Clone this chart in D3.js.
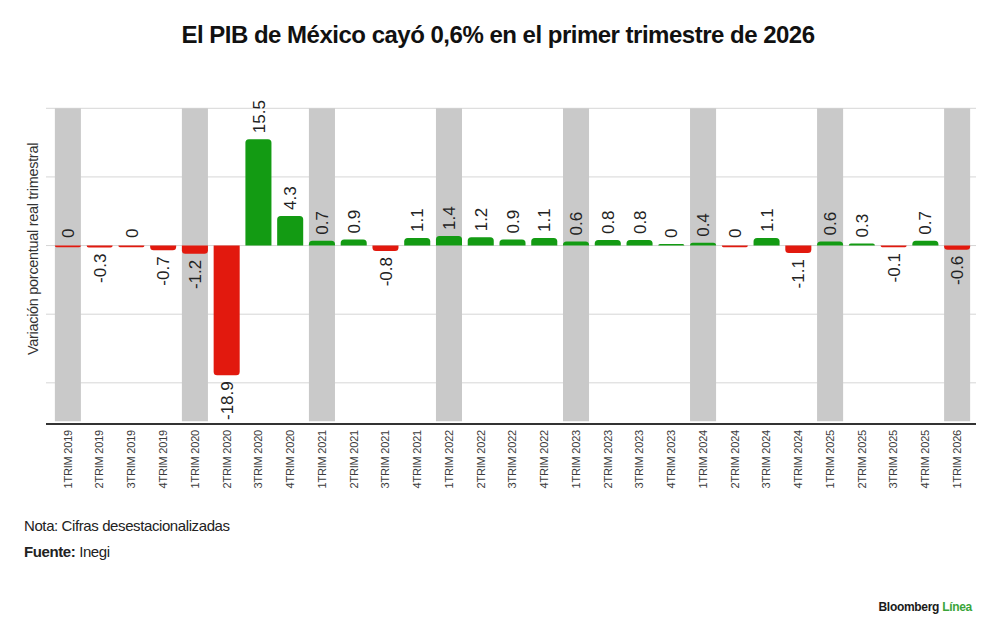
<!DOCTYPE html>
<html>
<head>
<meta charset="utf-8">
<script src="https://cdn.jsdelivr.net/npm/d3@7"></script>
<style>
  body { margin: 0; background: #fff; }
  svg { display: block; }
</style>
</head>
<body>
<div id="chart"></div>
<script>
  "use strict";
  // trimestres 2019-2026, variación trimestral desestacionalizada
  var quarters = ["1TRIM 2019", "2TRIM 2019", "3TRIM 2019", "4TRIM 2019",
                  "1TRIM 2020", "2TRIM 2020", "3TRIM 2020", "4TRIM 2020",
                  "1TRIM 2021", "2TRIM 2021", "3TRIM 2021", "4TRIM 2021",
                  "1TRIM 2022", "2TRIM 2022", "3TRIM 2022", "4TRIM 2022",
                  "1TRIM 2023", "2TRIM 2023", "3TRIM 2023", "4TRIM 2023",
                  "1TRIM 2024", "2TRIM 2024", "3TRIM 2024", "4TRIM 2024",
                  "1TRIM 2025", "2TRIM 2025", "3TRIM 2025", "4TRIM 2025",
                  "1TRIM 2026"];
  // the "0" values carry a tiny sign so the colour follows the picture
  var growth = [-0.02, -0.3, -0.02, -0.7,
                -1.2, -18.9, 15.5, 4.3,
                0.7, 0.9, -0.8, 1.1,
                1.4, 1.2, 0.9, 1.1,
                0.6, 0.8, 0.8, 0.02,
                0.4, -0.02, 1.1, -1.1,
                0.6, 0.3, -0.1, 0.7,
                -0.6];
  var yTicks = [-20, -10, 0, 10, 20];

  var width = 1000, height = 636;
  var green = "#139b13", red = "#e2190e", band = "#c9c9c9";
  var font = "'Liberation Sans', Arial, sans-serif";

  var svg = d3.select("#chart").append("svg")
              .attr("width", width)
              .attr("height", height)
              .style("font-family", font);

  var x = d3.scaleBand()
            .domain(quarters)
            .range([52, 973])
            .paddingInner(0.18)
            .paddingOuter(0.09);

  var y = d3.scaleLinear()
            .domain([-26, 20])
            .range([424, 108.3]);

  // title
  svg.append("text")
     .attr("x", 498).attr("y", 43)
     .attr("text-anchor", "middle")
     .style("font-size", "24px")
     .style("font-weight", "bold")
     .style("letter-spacing", "-0.5px")
     .attr("fill", "#111")
     .text("El PIB de México cayó 0,6% en el primer trimestre de 2026");

  // gridlines
  svg.append("g").selectAll("line")
     .data(yTicks).enter()
     .append("line")
     .attr("x1", 46).attr("x2", 976)
     .attr("y1", function(d) { return y(d); })
     .attr("y2", function(d) { return y(d); })
     .attr("stroke", "#d6d6d6")
     .attr("stroke-width", 1);

  // first quarter shading
  svg.append("g").selectAll("rect")
     .data(quarters.filter(function(q) { return q.charAt(0) === "1"; })).enter()
     .append("rect")
     .attr("x", function(d) { return x(d); })
     .attr("width", x.bandwidth())
     .attr("y", y(20))
     .attr("height", y(-25.6) - y(20))
     .attr("fill", band);

  // bars with rounded outer end
  function barPath(q, v) {
    var x0 = x(q), w = x.bandwidth();
    var y0 = y(0), y1 = y(v);
    var h = Math.abs(y1 - y0);
    if (h < 1.6) h = 1.6;
    var r = Math.min(3.5, h);
    if (v >= 0) {
      var t = y0 - h;
      return "M" + x0 + "," + y0 +
             "V" + (t + r) +
             "Q" + x0 + "," + t + " " + (x0 + r) + "," + t +
             "H" + (x0 + w - r) +
             "Q" + (x0 + w) + "," + t + " " + (x0 + w) + "," + (t + r) +
             "V" + y0 + "Z";
    }
    var b = y0 + h;
    return "M" + x0 + "," + y0 +
           "V" + (b - r) +
           "Q" + x0 + "," + b + " " + (x0 + r) + "," + b +
           "H" + (x0 + w - r) +
           "Q" + (x0 + w) + "," + b + " " + (x0 + w) + "," + (b - r) +
           "V" + y0 + "Z";
  }

  var data = quarters.map(function(q, i) {
    var r = Math.round(growth[i] * 10) / 10;
    return { q: q, v: growth[i], r: r === 0 ? 0 : r };
  });

  svg.append("g").selectAll("path")
     .data(data).enter()
     .append("path")
     .attr("d", function(d) { return barPath(d.q, d.v); })
     .attr("fill", function(d) { return d.v < 0 ? red : green; });

  // value labels, above for >= 0 after rounding
  svg.append("g").selectAll("text")
     .data(data).enter()
     .append("text")
     .attr("transform", function(d) {
       var cx = x(d.q) + x.bandwidth() / 2;
       var yy = d.r >= 0 ? Math.min(y(d.r), y(0) - 1.6) - 6 : Math.max(y(d.r), y(0) + 1.6) + 6;
       return "translate(" + cx + "," + yy + ") rotate(-90)";
     })
     .attr("dy", "0.36em")
     .attr("text-anchor", function(d) { return d.r >= 0 ? "start" : "end"; })
     .style("font-size", "17px")
     .attr("fill", "#222")
     .text(function(d) { return String(d.r); });

  // x axis
  var xAxis = svg.append("g")
                 .attr("transform", "translate(0," + y(-26) + ")")
                 .call(d3.axisBottom(x).tickSize(0).tickPadding(0));
  xAxis.select(".domain")
       .attr("d", "M46,0H976")
       .attr("stroke", "#333")
       .attr("stroke-width", 2);
  xAxis.selectAll("text")
       .attr("transform", "rotate(-90)")
       .attr("text-anchor", "end")
       .attr("x", -6)
       .attr("y", 0)
       .attr("dy", "0.35em")
       .style("font-family", font)
       .style("font-size", "11px")
       .style("letter-spacing", "-0.2px")
       .attr("fill", "#3a3a3a");

  // y axis title
  svg.append("text")
     .attr("transform", "translate(33," + 249 + ") rotate(-90)")
     .attr("text-anchor", "middle")
     .attr("dy", "0.35em")
     .style("font-size", "14.5px")
     .style("letter-spacing", "-0.3px")
     .attr("fill", "#333")
     .text("Variación porcentual real trimestral");

  // notes
  svg.append("text")
     .attr("x", 24).attr("y", 531)
     .style("font-size", "15px")
     .style("letter-spacing", "-0.4px")
     .attr("fill", "#222")
     .text("Nota: Cifras desestacionalizadas");

  var src = svg.append("text")
     .attr("x", 24).attr("y", 557)
     .style("font-size", "15px")
     .style("letter-spacing", "-0.4px")
     .attr("fill", "#222");
  src.append("tspan").style("font-weight", "bold").text("Fuente: ");
  src.append("tspan").text("Inegi");

  // logo
  var logo = svg.append("text")
     .attr("x", 972).attr("y", 611)
     .attr("text-anchor", "end")
     .style("font-size", "12px")
     .style("font-weight", "bold")
     .style("letter-spacing", "-0.3px");
  logo.append("tspan").attr("fill", "#1a1a1a").text("Bloomberg ");
  logo.append("tspan").attr("fill", "#3aa53a").text("Línea");
</script>
</body>
</html>
